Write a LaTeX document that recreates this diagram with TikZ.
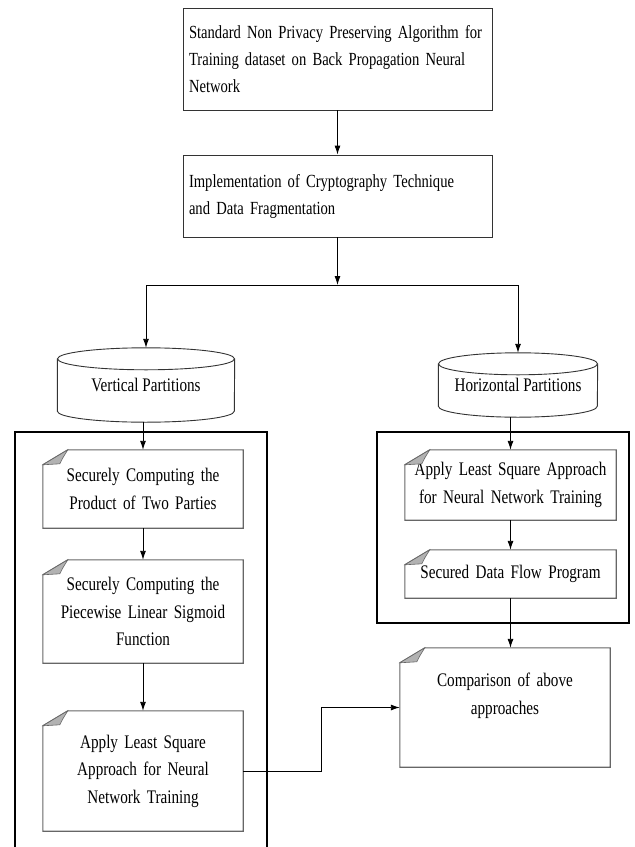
\documentclass[tikz,border=0pt]{standalone}
\usepackage{fontspec}
\setmainfont{Liberation Serif}[FakeStretch=0.79]
\usetikzlibrary{arrows.meta,calc}
\tikzset{
  plainbox/.style={draw=black!80, line width=0.9bp, align=left, text width=297bp, inner xsep=6bp, inner ysep=0pt, font=\fontsize{18.5bp}{27bp}\selectfont},
  notebox/.style={align=center, text width=192bp, inner sep=0pt},
  drumbox/.style={align=center, inner sep=0pt},
  noteline/.style={draw=black!60, line width=1.1bp},
  foldpart/.style={draw=black!60, fill=black!30, line width=0.6bp},
  frame/.style={line width=2.6bp},
  line/.style={line width=0.9bp},
  arr/.style={line width=0.9bp, -{Latex[length=9bp,width=6bp]}}
}
% outline of a note with the folded corner
\def\foldnote#1{%
  \draw[noteline] ([yshift=-15bp]#1.north west) -- ([xshift=25bp]#1.north west) -- (#1.north east) -- (#1.south east) -- (#1.south west) -- cycle;
  \filldraw[foldpart] ([yshift=-15bp]#1.north west) -- ([xshift=25bp]#1.north west) .. controls ([xshift=20bp,yshift=-8bp]#1.north west) .. ([xshift=17bp,yshift=-14bp]#1.north west) -- cycle;}
% drum (database) outline around a node
\def\drum#1#2{%
  \draw[line, draw=black!80] ([yshift=-11bp]#1.north) ellipse [x radius=#2, y radius=11bp];
  \draw[line, draw=black!80] ([yshift=-11bp]#1.north west) -- ([yshift=11bp]#1.south west) arc [start angle=180, end angle=360, x radius=#2, y radius=11bp] -- ([yshift=-11bp]#1.north east);}
\begin{document}
\begin{tikzpicture}[x=1bp, y=-1bp, font=\fontsize{19.2bp}{27.5bp}\selectfont]
  \useasboundingbox (0,0) rectangle (635,847);

  %%%%% top %%%%%
  \node[plainbox, minimum width=309bp, minimum height=102bp] (b1) at (337.5,59)
    {Standard Non Privacy Preserving Algorithm for\\Training dataset on Back Propagation Neural\\Network};
  \node[plainbox, minimum width=309bp, minimum height=82bp] (b2) at (337.5,196)
    {Implementation of Cryptography Technique\\and Data Fragmentation};
  \coordinate (split) at (337.5,285);

  %%%%% partitions %%%%%
  \node[drumbox, minimum width=177bp, minimum height=74bp] (vp) at (146,385) {Vertical Partitions};
  \drum{vp}{88.5bp}
  \node[drumbox, minimum width=159bp, minimum height=64bp] (hp) at (518,385) {Horizontal Partitions};
  \drum{hp}{79.5bp}

  \draw[frame] (15,860) -- (15,432) -- (267,432) -- (267,860);
  \draw[frame] (377,432) rectangle (629,623);

  %%%%% vertical side %%%%%
  \node[notebox, minimum width=200bp, minimum height=78bp] (n1) at (143,489)
    {Securely Computing the\\Product of Two Parties};
  \foldnote{n1}
  \node[notebox, minimum width=200bp, minimum height=103bp] (n2) at (143,611.5)
    {Securely Computing the\\Piecewise Linear Sigmoid\\Function};
  \foldnote{n2}
  \node[notebox, minimum width=200bp, minimum height=120bp] (n3) at (143,771)
    {Apply Least Square\\Approach for Neural\\Network Training};
  \foldnote{n3}

  %%%%% horizontal side %%%%%
  \node[notebox, text width=205bp, minimum width=211bp, minimum height=70bp] (r1) at (510.5,485)
    {Apply Least Square Approach\\for Neural Network Training};
  \foldnote{r1}
  \node[notebox, text width=205bp, minimum width=211bp, minimum height=48bp] (r2) at (510.5,574)
    {Secured Data Flow Program};
  \foldnote{r2}
  \node[notebox, text width=200bp, minimum width=210bp, minimum height=119bp] (cmp) at (505,707.5)
    {Comparison of above\\approaches\\\mbox{}};
  \foldnote{cmp}

  %%%%% connectors %%%%%
  \draw[arr] (b1) -- (b2);
  \draw[arr] (b2) -- (split);
  \draw[line] (vp.north |- split) -- (hp.north |- split);
  \draw[arr] (vp.north |- split) -- (vp.north);
  \draw[arr] (hp.north |- split) -- (hp.north);
  \draw[arr] (vp.south -| n1.north) -- (n1.north);
  \draw[arr] (n1) -- (n2);
  \draw[arr] (n2) -- (n3);
  \draw[arr] (hp.south -| r1.north) -- (r1.north);
  \draw[arr] (r1) -- (r2);
  \draw[arr] (r2.south) -- (r2.south |- cmp.north);
  \draw[arr] (n3.east) -| ($(n3.east)!.5!(cmp.west)$) |- (cmp.west);
\end{tikzpicture}
\end{document}
